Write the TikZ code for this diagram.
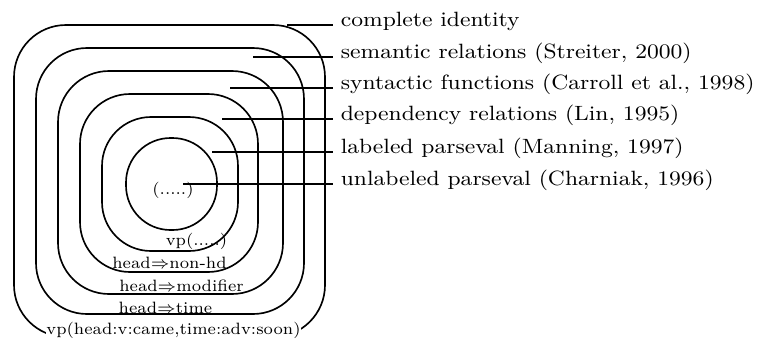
\documentclass[tikz,border=0pt]{standalone}
\usepackage{graphicx}
\begin{document}
\begin{tikzpicture}[x=0.426pt,y=-0.426pt,line width=0.7pt,
  ring/.style n args={3}{draw,inner sep=0pt,minimum width={#1*0.426pt},minimum height={#2*0.426pt},rounded corners={#3*0.426pt}},
  lab/.style={anchor=base west,inner xsep=3pt,inner ysep=0pt,font=\fontsize{8.8}{10}\selectfont},
  tag/.style={anchor=base,inner sep=0pt,font=\fontsize{7}{8}\selectfont}]
\useasboundingbox (0,0) rectangle (772,340);
% nested rings
\node[ring={311}{312}{52}] (r1) at (169.5,181) {};
\node[ring={268}{266}{51}] (r2) at (170,181) {};
\node[ring={225}{223}{51}] (r3) at (170.5,182.5) {};
\node[ring={178}{178}{50}] (r4) at (169,183) {};
\node[ring={136}{134}{49}] (r5) at (170,184) {};
\node[ring={91}{92}{44.5}] (r6) at (171.5,184) {};
% labels inside
\node[tag] (t6) at (173,194) {(.....)};
\node[tag] (t5) at (196.5,245.5) {vp(.....)};
\node[tag] (t4) at (169.5,268) {head$\Rightarrow$non-hd};
\node[tag] (t3) at (181.5,291.5) {head$\Rightarrow$modifier};
\node[tag] (t2) at (165.5,313) {head$\Rightarrow$time};
\node[tag,fill=white,inner ysep=1pt] (t1) at (173.5,334) {vp(head:v:came,time:adv:soon)};
% right labels
\node[lab] (l1) at (333,26.5) {\scalebox{1.11}[1]{complete identity}};
\node[lab] (l2) at (333,58.2) {\scalebox{1.11}[1]{semantic relations (Streiter, 2000)}};
\node[lab] (l3) at (333,89.8) {\scalebox{1.11}[1]{syntactic functions (Carroll et al., 1998)}};
\node[lab] (l4) at (333,120.8) {\scalebox{1.11}[1]{dependency relations (Lin, 1995)}};
\node[lab] (l5) at (333,153.8) {\scalebox{1.11}[1]{labeled parseval (Manning, 1997)}};
\node[lab] (l6) at (333,185.8) {\scalebox{1.11}[1]{unlabeled parseval (Charniak, 1996)}};
% connector start points
\coordinate (s1) at (287,25);
\coordinate (s2) at (253,56.7);
\coordinate (s3) at (230,88.3);
\coordinate (s4) at (222,119.3);
\coordinate (s5) at (212,152.3);
\coordinate (s6) at (183,184.3);
\foreach \i in {1,...,6} \draw (s\i) -- (s\i -| l\i.west);
\end{tikzpicture}
\end{document}
